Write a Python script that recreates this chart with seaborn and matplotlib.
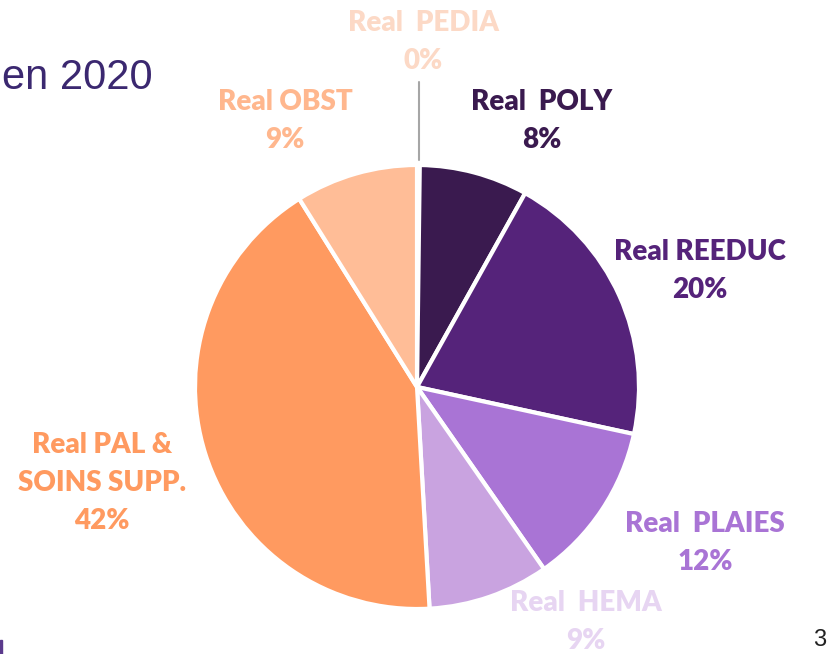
import matplotlib
matplotlib.use("Agg")
import matplotlib.pyplot as plt
import seaborn as sns
from matplotlib.patches import Rectangle

# slices, clockwise from 12 o'clock
categories = ["Real  PEDIA", "Real  POLY", "Real REEDUC", "Real  PLAIES",
              "Real  HEMA", "Real PAL &\nSOINS SUPP.", "Real OBST"]
shares = [0.2, 7.9, 20.3, 11.9, 8.8, 42.0, 8.9]
pct_labels = ["0%", "8%", "20%", "12%", "9%", "42%", "9%"]

slice_colors = ["#fcdccb", "#3a1a4f", "#55237a", "#a974d5",
                "#c9a3e0", "#ff9a60", "#ffbd97"]
text_colors = ["#fcd9c6", "#3a1a4f", "#55237a", "#a974d5",
               "#e7d5f2", "#ff9a60", "#ffb78e"]
# label centres in pixels (x, y from top)
label_px = [(423, 42), (542, 121), (700, 271), (705, 543),
            (586, 622), (102, 483), (285, 121)]

W, H = 830, 654
sns.set_theme(style="white")
plt.rcParams["font.family"] = ["Lato", "DejaVu Sans"]

fig = plt.figure(figsize=(W / 100, H / 100), dpi=100)
cx, cy, r = 417, 387, 222
ax = fig.add_axes([(cx - r) / W, (H - cy - r) / H, 2 * r / W, 2 * r / H])

ax.pie(shares, colors=slice_colors, startangle=90, counterclock=False,
       radius=1, wedgeprops=dict(edgecolor="white", linewidth=3))
ax.set_xlim(-1, 1)
ax.set_ylim(-1, 1)
ax.set_aspect("equal")
ax.axis("off")

for lab, pct, col, (px, py) in zip(categories, pct_labels, text_colors, label_px):
    fig.text(px / W, 1 - py / H, f"{lab}\n{pct}", ha="center", va="center",
             color=col, fontsize=20, fontweight="heavy", linespacing=1.55)

# leader line for the tiny PEDIA slice
fig.add_artist(plt.Line2D([419 / W, 419 / W], [1 - 82 / H, 1 - 160 / H],
                          color="#a6a6a6", linewidth=1.5))

fig.text(2 / W, 1 - 78 / H, "en 2020", ha="left", va="center",
         color="#3b2870", fontsize=30, family=["Liberation Sans", "DejaVu Sans"])
fig.text(820 / W, 1 - 640 / H, "3", ha="center", va="center",
         color="#222222", fontsize=17, family=["Liberation Sans", "DejaVu Sans"])
fig.add_artist(Rectangle((0, 0), 2 / W, 14 / H, transform=fig.transFigure,
                         color="#5b3a8c"))

fig.savefig("out.png", dpi=100)
